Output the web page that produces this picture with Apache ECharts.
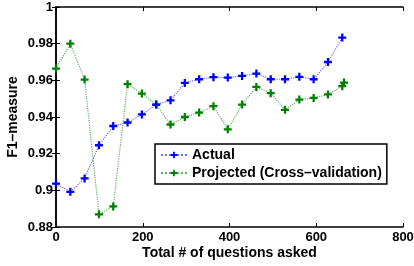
<!DOCTYPE html>
<html>
<head>
<meta charset="utf-8">
<script src="https://cdn.jsdelivr.net/npm/echarts@6/dist/echarts.min.js"></script>
<style>
  html, body { margin: 0; padding: 0; background: #fff; }
  #main { width: 414px; height: 266px; }
</style>
</head>
<body>
<div id="main"></div>
<script>
// questions asked (x) for each measurement
var questions = [0, 33, 66, 99, 132, 165, 198, 231, 264, 297, 330, 363, 396, 429, 462, 495, 528, 561, 594, 627, 660];
var actual = [0.9037, 0.8992, 0.9065, 0.9246, 0.9351, 0.937, 0.9414, 0.9468, 0.9491, 0.9586, 0.9606,
  0.9617, 0.9615, 0.9624, 0.9637, 0.9606, 0.9606, 0.9619, 0.9606, 0.97, 0.9833];
var projectedX = [0, 33, 66, 99, 132, 165, 198, 231, 264, 297, 330, 363, 396, 429, 462, 495, 528, 561, 594, 627, 660, 664];
var projected = [0.9664, 0.98, 0.9604, 0.8869, 0.8912, 0.9579, 0.9528, 0.9468, 0.9359, 0.94, 0.9424,
  0.9459, 0.9333, 0.9468, 0.9564, 0.953, 0.9439, 0.9495, 0.9504, 0.9523, 0.9568, 0.9588];
var yTicks = { min: 0.88, max: 1, step: 0.02 };
var xTicks = { min: 0, max: 800, step: 200 };

var font = 'Liberation Sans, Helvetica, Arial, sans-serif';
// plus marker like matlab '+'
var plus = 'path://M2.5,0H4.5V2.5H7V4.5H4.5V7H2.5V4.5H0V2.5H2.5Z';

function pairs(xs, ys) {
  var out = [];
  for (var i = 0; i < xs.length; i++) out.push([xs[i], ys[i]]);
  return out;
}

var chart = echarts.init(document.getElementById('main'), null, { renderer: 'canvas' });

var tickText = { color: '#000', fontFamily: font, fontWeight: 'bold', fontSize: 13 };
var nameText = { color: '#000', fontFamily: font, fontWeight: 'bold', fontSize: 14 };

chart.setOption({
  animation: false,
  grid: { left: 56, right: 11, top: 7, bottom: 39, containLabel: false, outerBoundsMode: 'none' },
  legend: {
    orient: 'vertical',
    left: 155, top: 144,
    padding: [4, 5, 4, 5],
    itemGap: 4,
    itemWidth: 26, itemHeight: 8,
    borderColor: '#000', borderWidth: 1.5,
    backgroundColor: '#fff',
    textStyle: { color: '#000', fontFamily: font, fontWeight: 'bold', fontSize: 14 },
    data: ['Actual', 'Projected (Cross\u2013validation)']
  },
  xAxis: [{
    type: 'value', min: xTicks.min, max: xTicks.max, interval: xTicks.step,
    name: 'Total # of questions asked', nameLocation: 'middle', nameGap: 19,
    nameMoveOverlap: false,
    nameTextStyle: nameText,
    axisLine: { lineStyle: { color: '#000', width: 1.5 } },
    axisTick: { inside: true, length: 4, lineStyle: { color: '#000' } },
    axisLabel: Object.assign({ margin: 4 }, tickText),
    splitLine: { show: false }
  }, {
    type: 'value', position: 'top', min: xTicks.min, max: xTicks.max, interval: xTicks.step,
    axisLine: { show: true, lineStyle: { color: '#000', width: 1.5 } },
    axisTick: { show: true, inside: true, length: 4, lineStyle: { color: '#000' } },
    axisLabel: { show: false },
    splitLine: { show: false }
  }],
  yAxis: [{
    type: 'value', min: yTicks.min, max: yTicks.max, interval: yTicks.step,
    name: 'F1\u2013measure', nameLocation: 'middle', nameGap: 36,
    nameMoveOverlap: false,
    nameTextStyle: nameText,
    axisLine: { show: true, lineStyle: { color: '#000', width: 1.5 } },
    axisTick: { show: true, inside: true, length: 4, lineStyle: { color: '#000' } },
    axisLabel: Object.assign({ margin: 3 }, tickText),
    splitLine: { show: false }
  }, {
    type: 'value', position: 'right', min: yTicks.min, max: yTicks.max, interval: yTicks.step,
    axisLine: { show: true, lineStyle: { color: '#000', width: 1.5 } },
    axisTick: { show: true, inside: true, length: 4, lineStyle: { color: '#000' } },
    axisLabel: { show: false },
    splitLine: { show: false }
  }],
  series: [{
    name: 'Actual', type: 'line',
    data: pairs(questions, actual),
    symbol: plus, symbolSize: 8,
    itemStyle: { color: '#0000ff' },
    lineStyle: { color: '#6f6fff', width: 1.2, type: 'dotted' },
    z: 3
  }, {
    name: 'Projected (Cross\u2013validation)', type: 'line',
    data: pairs(projectedX, projected),
    symbol: plus, symbolSize: 8,
    itemStyle: { color: '#008000' },
    lineStyle: { color: '#5fb05f', width: 1.2, type: 'dotted' },
    z: 2
  }]
});
</script>
</body>
</html>
